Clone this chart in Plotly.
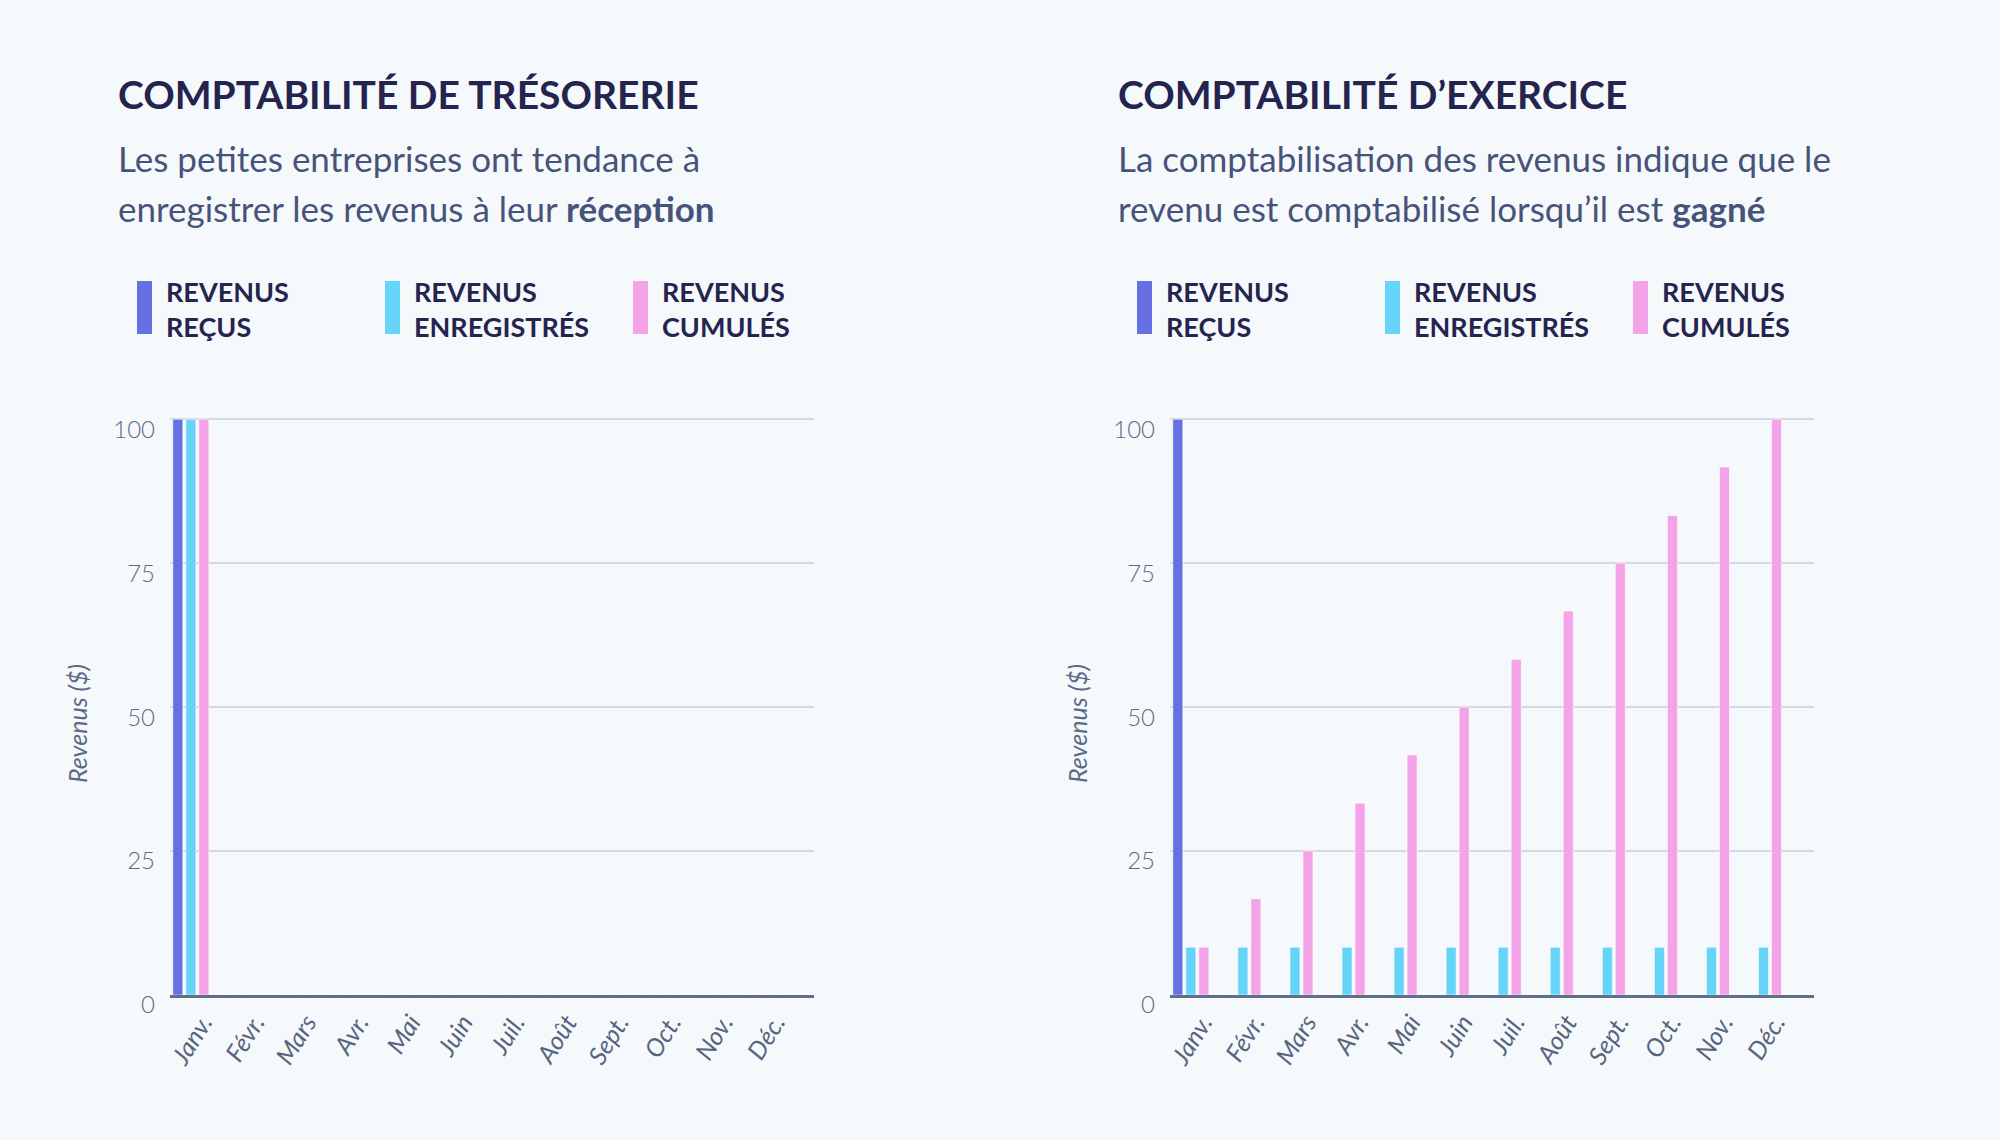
import plotly.graph_objects as go

months = ["Janv.", "Févr.", "Mars", "Avr.", "Mai", "Juin", "Juil.", "Août", "Sept.", "Oct.", "Nov.", "Déc."]
series_names = ["REVENUS<br>REÇUS", "REVENUS<br>ENREGISTRÉS", "REVENUS<br>CUMULÉS"]
series_colors = ["#6670e3", "#66d4f8", "#f5a3e9"]

# Comptabilité de trésorerie (left)
cash_recus = [100, 0, 0, 0, 0, 0, 0, 0, 0, 0, 0, 0]
cash_enregistres = [100, 0, 0, 0, 0, 0, 0, 0, 0, 0, 0, 0]
cash_cumules = [100, 0, 0, 0, 0, 0, 0, 0, 0, 0, 0, 0]

# Comptabilité d'exercice (right)
accr_recus = [100, 0, 0, 0, 0, 0, 0, 0, 0, 0, 0, 0]
accr_enregistres = [8.3, 8.3, 8.3, 8.3, 8.3, 8.3, 8.3, 8.3, 8.3, 8.3, 8.3, 8.3]
accr_cumules = [8.3, 16.7, 25, 33.3, 41.7, 50, 58.3, 66.7, 75, 83.3, 91.7, 100]

y_ticks = [0, 25, 50, 75, 100]

titles = ["COMPTABILITÉ DE TRÉSORERIE", "COMPTABILITÉ D’EXERCICE"]
subtitles = [
    ["Les petites entreprises ont tendance à", "enregistrer les revenus à leur <b>réception</b>"],
    ["La comptabilisation des revenus indique que le", "revenu est comptabilisé lorsqu’il est <b>gagné</b>"],
]
y_title = "Revenus ($)"

W, H = 2000, 1140
BG = "#f6f9fc"
FONT = "Lato"


def X(px):
    return px / W


def Y(py):
    return 1 - py / H


fig = go.Figure()

panels = [
    ("x", "y", [cash_recus, cash_enregistres, cash_cumules]),
    ("x2", "y2", [accr_recus, accr_enregistres, accr_cumules]),
]
for xa, ya, data in panels:
    for name, color, vals in zip(series_names, series_colors, data):
        fig.add_trace(go.Bar(
            x=months, y=vals, name=name.replace("<br>", " "),
            marker=dict(color=color, line=dict(color="rgba(255,255,255,0.55)", width=1)),
            xaxis=xa, yaxis=ya, showlegend=False,
        ))

axis_x = dict(
    type="category", range=[-0.4, 11.97], showgrid=False, zeroline=False,
    showline=True, linecolor="#5f6f8a", linewidth=3, ticks="", automargin=False,
    tickangle=-58, ticklabelshift=12,
    tickfont=dict(family=FONT, size=25, color="#56657f", style="italic"),
    fixedrange=True,
)
axis_y = dict(
    range=[0, 100.4], tickvals=y_ticks, showgrid=True, gridcolor="#d3d9e2", gridwidth=2,
    zeroline=False, showline=False, ticks="", ticklabelposition="outside",
    ticklabelstandoff=14, ticklabelshift=10, automargin=False,
    tickfont=dict(family=FONT, size=24, color="#5b6a86", weight=300),
    fixedrange=True,
)

ydom = [Y(995), Y(417)]
fig.update_layout(
    width=W, height=H,
    margin=dict(l=0, r=0, t=0, b=0, autoexpand=False),
    paper_bgcolor=BG, plot_bgcolor=BG,
    barmode="group", bargap=0.25, bargroupgap=0.23,
    xaxis=dict(axis_x, domain=[X(170), X(814)], anchor="y"),
    yaxis=dict(axis_y, domain=ydom, anchor="x"),
    xaxis2=dict(axis_x, domain=[X(1170), X(1814)], anchor="y2"),
    yaxis2=dict(axis_y, domain=ydom, anchor="x2"),
    font=dict(family=FONT),
)

annotations = []
shapes = []
for p in range(2):
    ox = p * 1000
    annotations.append(dict(
        text=titles[p], x=X(116 + ox), y=Y(94), xref="paper", yref="paper",
        xanchor="left", yanchor="middle", showarrow=False,
        font=dict(family=FONT, size=39, color="#25244f", weight=700),
    ))
    for i, line in enumerate(subtitles[p]):
        annotations.append(dict(
            text=line, x=X(116 + ox), y=Y(158 + 50 * i), xref="paper", yref="paper",
            xanchor="left", yanchor="middle", showarrow=False,
            font=dict(family=FONT, size=35, color="#46547a"),
        ))
    for k, (name, color) in enumerate(zip(series_names, series_colors)):
        lx = 137 + ox + 248 * k
        shapes.append(dict(
            type="rect", xref="paper", yref="paper",
            x0=X(lx), x1=X(lx + 15), y0=Y(334), y1=Y(281),
            fillcolor=color, line=dict(width=0),
        ))
        annotations.append(dict(
            text=name, x=X(lx + 27), y=Y(309), xref="paper", yref="paper",
            xanchor="left", yanchor="middle", align="left", showarrow=False,
            font=dict(family=FONT, size=27, color="#25244f", weight=700),
        ))
    annotations.append(dict(
        text=y_title, x=X(77 + ox), y=Y(724), xref="paper", yref="paper",
        xanchor="center", yanchor="middle", textangle=-90, showarrow=False,
        font=dict(family=FONT, size=25, color="#5b6a86", style="italic"),
    ))

fig.update_layout(annotations=annotations, shapes=shapes)
fig.write_html(
    "out.html",
    config={"displayModeBar": False},
    post_script="document.body.style.margin='0';document.body.style.background='%s';" % BG,
)
